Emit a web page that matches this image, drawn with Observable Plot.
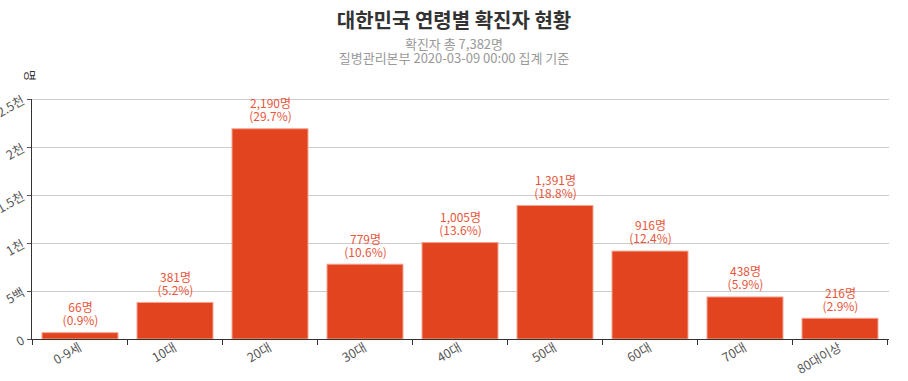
<!DOCTYPE html>
<html><head><meta charset="utf-8">
<script src="https://cdn.jsdelivr.net/npm/d3@7"></script>
<script src="https://cdn.jsdelivr.net/npm/@observablehq/plot@0.6"></script>
<style>
body{margin:0;background:#fff;font-family:"Noto Sans CJK KR","Noto Sans",sans-serif;}
#hdr{position:relative;width:908px;height:68px;}
#title{position:absolute;top:7px;width:100%;text-align:center;font-size:20px;font-weight:bold;color:#333;line-height:26px;}
.sub{position:absolute;width:100%;text-align:center;font-size:13px;color:#999;line-height:14px;}
</style></head>
<body>
<div id="hdr">
<div id="title">대한민국 연령별 확진자 현황</div>
<div class="sub" style="top:37px">확진자 총 7,382명</div>
<div class="sub" style="top:51px">질병관리본부 2020-03-09 00:00 집계 기준</div>
</div>
<div id="chart"></div>
<script>
const ageGroups = ["0-9세","10대","20대","30대","40대","50대","60대","70대","80대이상"];
const counts = [66,381,2190,779,1005,1391,916,438,216];
const percents = ["0.9%","5.2%","29.7%","10.6%","13.6%","18.8%","12.4%","5.9%","2.9%"];
const yTicks = [0,500,1000,1500,2000,2500];

const data = ageGroups.map((g,i)=>({group:g, count:counts[i], pct:percents[i]}));
const fmtY = d => d===0 ? "0" : d<1000 ? (d/100)+"백" : (d/1000)+"천";
const font = "Noto Sans CJK KR";

const chart = Plot.plot({
  width: 908, height: 313,
  marginTop: 31, marginBottom: 42, marginLeft: 31, marginRight: 19,
  style: {fontFamily: font, fontSize: "12px", color: "#555", background: "#fff", overflow: "visible"},
  x: {domain: ageGroups, paddingInner: 0.2, paddingOuter: 0.1, label: null},
  y: {domain: [0,2500], label: null},
  marks: [
    Plot.gridY(yTicks, {stroke: "#ccc", strokeOpacity: 1}),
    Plot.barY(data, {x: "group", y: "count", fill: "#e2441f", stroke: "#f3a593", strokeWidth: 1}),
    Plot.text(data, {x: "group", y: "count", text: d => d.count.toLocaleString("en-US")+"명", dy: -25, fill: "#e8553a", fontSize: 12}),
    Plot.text(data, {x: "group", y: "count", text: d => "("+d.pct+")", dy: -12, fill: "#e8553a", fontSize: 12}),
    Plot.axisY({ticks: yTicks, tickFormat: fmtY, tickSize: 4, tickRotate: -30, tickPadding: 4, fill: "#555", fontSize: 12.5, label: null}),
    Plot.axisX({tickSize: 0, tickRotate: -30, tickPadding: 7, fill: "#555", fontSize: 12.5, label: null}),
    Plot.frame({anchor: "left", stroke: "#333"}),
    Plot.ruleY([0], {stroke: "#333"}),
    Plot.text(["명"], {frameAnchor: "top-left", textAnchor: "middle", lineAnchor: "middle", rotate: 90, dx: -3, dy: -24, fill: "#333", fontSize: 12})
  ]
});
document.getElementById("chart").appendChild(chart);

// ticks at band boundaries, positioned with the plot's own x scale
const xs = chart.scale("x");
const half = (xs.step - xs.bandwidth) / 2;
const edges = ageGroups.map(g => xs.apply(g) - half).concat([xs.apply(ageGroups[ageGroups.length-1]) + xs.bandwidth + half]);
const ys = chart.scale("y");
const y0 = ys.apply(0);
d3.select(chart).append("g").selectAll("line").data(edges).join("line")
  .attr("x1", d=>d).attr("x2", d=>d).attr("y1", y0).attr("y2", y0+6)
  .attr("stroke", "#333");
</script>
</body></html>
